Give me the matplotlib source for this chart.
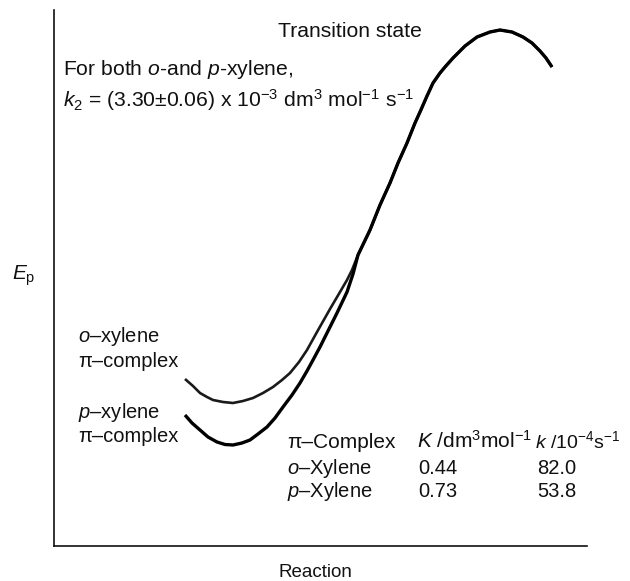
import matplotlib
matplotlib.use("Agg")
import matplotlib.pyplot as plt

# energy profile (x: reaction coordinate, y: Ep, arbitrary units)
o_x = [131, 139, 146, 153, 159, 169, 179, 189, 199, 209, 219, 228, 236, 245, 253, 263, 276, 286, 293, 298]
o_y = [167, 160, 153, 149, 146, 144, 143, 145, 148, 153, 159, 166, 173, 184, 196, 214, 237, 254, 266, 276]
p_x = [131, 138, 146, 154, 163, 171, 179, 188, 196, 204, 213, 221, 229, 238, 246, 253, 259, 266, 273, 283, 293, 299]
p_y = [131, 123, 116, 109, 104, 101.5, 101, 103, 106, 112, 119, 128, 139, 151, 163, 175, 186, 199, 213, 233, 254, 272]
ts_x = [304, 316, 326, 336, 344, 353, 361, 366, 373, 379, 386, 391, 399, 411, 423, 436, 446, 458, 469, 478, 486, 492, 498]
ts_y = [291, 316, 341, 363, 383, 403, 423, 434, 450, 463, 473, 479, 488, 500, 509, 514, 516, 514, 509, 503, 495, 488, 479]

complexes = ["$o$\u2013Xylene", "$p$\u2013Xylene"]
K_values = ["0.44", "0.73"]
k_values = ["82.0", "53.8"]

plt.rcParams["font.family"] = ["Liberation Sans", "DejaVu Sans"]
plt.rcParams["mathtext.fontset"] = "custom"
plt.rcParams["mathtext.rm"] = "Liberation Sans"
plt.rcParams["mathtext.it"] = "Liberation Sans:italic"
plt.rcParams["mathtext.bf"] = "Liberation Sans:bold"

W, H = 630, 581
fig = plt.figure(figsize=(W / 100, H / 100), dpi=100)
ax = fig.add_axes([54 / W, (H - 546) / H, (587 - 54) / W, (546 - 10) / H])
ax.set_xlim(0, 533)
ax.set_ylim(0, 536)
ax.set_xticks([])
ax.set_yticks([])
for s in ["top", "right"]:
    ax.spines[s].set_visible(False)
for s in ["left", "bottom"]:
    ax.spines[s].set_linewidth(1.2)
    ax.spines[s].set_color("#111111")

ax.plot(o_x + ts_x, o_y + ts_y, color="#1a1a1a", lw=1.9, solid_capstyle="butt")
ax.plot(p_x + ts_x, p_y + ts_y, color="#000000", lw=2.4, solid_capstyle="butt")


def put(px, py, s, fs=14.5, **kw):
    # place text by picture pixel (left, baseline)
    ax.text(px - 54, 546 - py, s, fontsize=fs, ha="left", va="baseline",
            color="#111111", clip_on=False, **kw)


put(278, 37, "Transition state", fs=15.2)
put(63, 75, "For both $o$-and $p$-xylene,", fs=15.2)
put(63, 107, "$k_2$ = (3.30\u00b10.06) x 10$^{\u22123}$ dm$^3$ mol$^{\u22121}$ s$^{\u22121}$", fs=15.2)
put(12, 280, r"$E_{\rm p}$", fs=15)

put(78, 342, "$o$\u2013xylene")
put(78, 367, "\u03c0\u2013complex")
put(78, 418, "$p$\u2013xylene")
put(78, 442, "\u03c0\u2013complex")

put(287, 448, "\u03c0\u2013Complex", fs=15)
put(417, 448, "$K$ /dm$^3$mol$^{\u22121}$", fs=15)
put(535, 448, "$k$ /10$^{\u22124}$s$^{\u22121}$", fs=14)
for i, name in enumerate(complexes):
    yb = 474 + 23 * i
    put(287, yb, name, fs=14.5)
    put(418, yb, K_values[i], fs=14.5)
    put(537, yb, k_values[i], fs=14.5)

put(279, 577, "Reaction", fs=13.5)

fig.savefig("out.png", dpi=100)
